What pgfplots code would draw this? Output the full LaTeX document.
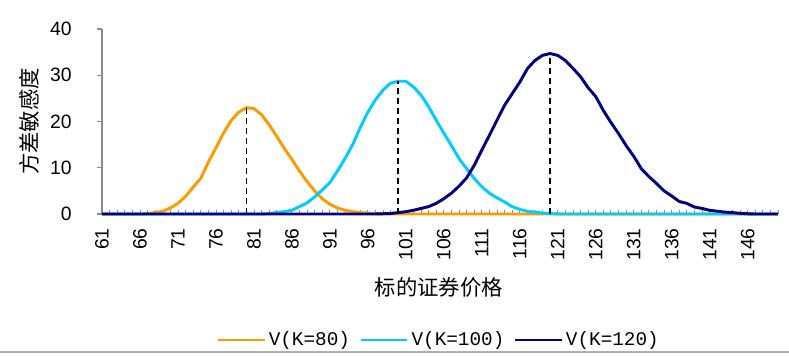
\documentclass[border=0pt]{standalone}
\usepackage{pgfplots}
\usepackage{pgfplotstable}
\pgfplotsset{compat=1.18}
\usepackage{fontspec}
\setmainfont{Liberation Sans}
\setmonofont{Liberation Mono}
\newfontfamily\cjk{Noto Sans CJK SC}
\definecolor{corange}{HTML}{FF9900}
\definecolor{ccyan}{HTML}{00CCFF}
\definecolor{cnavy}{HTML}{000080}
\definecolor{axgray}{HTML}{8C8C8C}

\pgfplotstableread{
x a b c
61 0 0 0
62 0 0 0
63 0 0 0
64 0 0 0
65 0 0 0
66 0 0 0
67 0.1 0 0
68 0.3 0 0
69 0.6 0 0
70 1.3 0 0
71 2.3 0 0
72 3.8 0 0
73 5.8 0 0
74 7.7 0 0
75 11.2 0 0
76 14.3 0 0
77 17.5 0 0
78 20.2 0 0
79 22.0 0 0
80 23.0 0 0
81 22.8 0 0
82 21.5 0 0
83 19.3 0.1 0
84 16.8 0.3 0
85 14.2 0.5 0
86 11.8 0.8 0
87 9.3 1.6 0
88 7.0 2.4 0
89 5.0 3.7 0
90 3.3 5.2 0
91 2.1 6.8 0
92 1.3 9.3 0
93 0.8 12.0 0
94 0.5 15.0 0
95 0.3 18.7 0
96 0.2 22.0 0
97 0.1 24.7 0
98 0 26.8 0.05
99 0 28.3 0.1
100 0 28.7 0.3
101 0 28.7 0.5
102 0 27.5 0.8
103 0 25.7 1.2
104 0 23.2 1.6
105 0 20.3 2.3
106 0 17.5 3.3
107 0 14.8 4.5
108 0 12.0 6.0
109 0 9.8 7.8
110 0 7.7 10.5
111 0 5.9 13.8
112 0 4.5 17.0
113 0 3.5 20.3
114 0 2.6 23.5
115 0 1.6 26.0
116 0 1.0 28.5
117 0 0.6 31.4
118 0 0.4 33.2
119 0 0.2 34.3
120 0 0.1 34.7
121 0 0 34.3
122 0 0 33.2
123 0 0 31.5
124 0 0 29.7
125 0 0 27.3
126 0 0 25.4
127 0 0 22.4
128 0 0 19.8
129 0 0 17.4
130 0 0 14.8
131 0 0 12.5
132 0 0 9.8
133 0 0 8.1
134 0 0 6.6
135 0 0 5.0
136 0 0 3.9
137 0 0 2.7
138 0 0 2.3
139 0 0 1.5
140 0 0 1.2
141 0 0 0.8
142 0 0 0.6
143 0 0 0.4
144 0 0 0.3
145 0 0 0.15
146 0 0 0.05
147 0 0 0
148 0 0 0
149 0 0 0
150 0 0 0
}\datatable

\begin{document}
\begin{tikzpicture}
\useasboundingbox (0,0) rectangle (591.75pt,267.75pt);
\draw[gray!60, line width=1.5pt] (0,3.75pt) -- (591.75pt,3.75pt);
\begin{axis}[
  at={(76.5pt,107.25pt)}, anchor=south west,
  scale only axis,
  width=507pt, height=138.75pt,
  xmin=61, xmax=150, ymin=0, ymax=40,
  axis lines*=left,
  axis line style={axgray, line width=0.8pt},
  clip=false,
  xtick={61,66,...,146},
  minor xtick={61,...,150},
  ytick={0,10,20,30,40},
  tick align=outside,
  major tick length=3.5pt,
  minor tick length=3pt,
  xtick style={axgray, line width=0.6pt, yshift=3pt},
  minor tick style={axgray, line width=0.6pt},
  ytick style={axgray, line width=0.8pt},
  /pgf/number format/assume math mode=true,
  xticklabel style={rotate=90, anchor=east, inner sep=0pt, xshift=1.5pt, font=\fontsize{14.5}{16}\selectfont},
  xticklabel shift=8.5pt,
  yticklabel style={anchor=east, inner sep=0pt, font=\fontsize{14.5}{16}\selectfont},
  yticklabel shift=19pt,
  xlabel={\cjk 标的证券价格},
  ylabel={\cjk 方差敏感度},
  xlabel style={at={(axis description cs:0.4985,-0.395)}, anchor=center, font=\fontsize{16}{18}\selectfont},
  ylabel style={at={(axis description cs:-0.108,0.5)}, anchor=center, rotate=0, font=\fontsize{16}{18}\selectfont},
  legend columns=3,
  legend style={at={(axis description cs:0.4985,-0.681)}, anchor=center, draw=none, fill=none,
    font=\fontsize{14.5}{16}\ttfamily, nodes={inner sep=2pt},
    /tikz/every even column/.append style={column sep=5pt}},
  legend image code/.code={\draw[#1] (0pt,0pt) -- (35pt,0pt);},
]
\addplot[corange, line width=2.2pt, line join=round] table[x=x, y=a] {\datatable};
\addlegendentry{V(K=80)}
\addplot[ccyan, line width=2.2pt, line join=round] table[x=x, y=b] {\datatable};
\addlegendentry{V(K=100)}
\addplot[cnavy, line width=2.2pt, line join=round] table[x=x, y=c] {\datatable};
\addlegendentry{V(K=120)}
\addplot[black, line width=1.1pt, dash pattern=on 4.5pt off 3pt, forget plot] coordinates {(80,0) (80,23.0)};
\addplot[black, line width=1.1pt, dash pattern=on 4.5pt off 3pt, forget plot] coordinates {(100,0) (100,28.7)};
\addplot[black, line width=1.1pt, dash pattern=on 4.5pt off 3pt, forget plot] coordinates {(120,0) (120,34.7)};
\end{axis}
\end{tikzpicture}
\end{document}
